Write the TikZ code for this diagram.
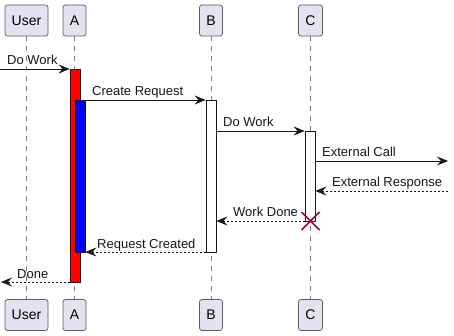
\documentclass[tikz,border=0pt]{standalone}
\usepackage{fontspec}
\setmainfont{Liberation Sans}
\usetikzlibrary{arrows.meta,calc}
\definecolor{partfill}{HTML}{E2E2F0}
\definecolor{ink}{HTML}{181818}
\definecolor{destroy}{HTML}{A80036}
\begin{document}
\begin{tikzpicture}[x=1pt,y=-1pt,
  participant/.style={draw=ink!70,fill=partfill,rounded corners=2.5pt,line width=0.7pt,
    minimum height=31pt,inner sep=0pt,font=\fontsize{14}{16}\selectfont},
  lifeline/.style={draw=ink!55,line width=0.6pt,dash pattern=on 5pt off 5pt},
  actbar/.style={draw=ink,line width=0.8pt,minimum width=10pt,inner sep=0pt},
  msg/.style={draw=ink,line width=0.8pt,-{Stealth[length=11pt,width=9pt,inset=4pt]}},
  reply/.style={msg,dash pattern=on 2pt off 2pt},
  lbl/.style={anchor=base west,inner sep=0pt,font=\fontsize{13}{15}\selectfont,text=ink}]
\useasboundingbox (0,0) rectangle (454,336);
\fill[white] (0,0) rectangle (454,336);

% participants, top and bottom
\node[participant,minimum width=43pt] (userT) at (26.5,20.5) {User};
\node[participant,minimum width=23pt] (aT) at (74.5,20.5) {A};
\node[participant,minimum width=23pt] (bT) at (211,20.5) {B};
\node[participant,minimum width=24pt] (cT) at (310.5,20.5) {C};
\node[participant,minimum width=43pt] (userB) at (26.5,315) {User};
\node[participant,minimum width=23pt] (aB) at (74.5,315) {A};
\node[participant,minimum width=23pt] (bB) at (211,315) {B};
\node[participant,minimum width=24pt] (cB) at (310.5,315) {C};

% lifelines
\draw[lifeline] (userT) -- (userB);
\draw[lifeline] (aT) -- (aB);
\draw[lifeline] (bT) -- (bB);
\draw[lifeline] (cT) -- (cB);

% activation bars
\node[actbar,fill=red,minimum height=213pt] (actA) at (75,175.5) {};
\node[actbar,fill=blue,minimum height=152pt] (actA2) at (80,176) {};
\node[actbar,fill=white,minimum height=152pt] (actB) at (211,176) {};
\node[actbar,fill=white,minimum height=90pt] (actC) at (310,176) {};

% free ends outside the participants
\coordinate (leftIn) at (0,69);
\coordinate (rightOut) at (448,161);
\coordinate (rightIn) at (448,191);
\coordinate (leftOut) at (1,282);

% messages
\draw[msg] (leftIn) -- (actA.west |- leftIn);
\node[lbl] (l1) at (7,65) {Do Work};

\draw[msg] (actA2.east |- 0,100) -- (actB.west |- 0,100);
\node[lbl] (l2) at (92,96) {Create Request};

\draw[msg] (actB.east |- 0,131) -- (actC.west |- 0,131);
\node[lbl] (l3) at (223,127) {Do Work};

\draw[msg] (actC.east |- rightOut) -- (rightOut);
\node[lbl] (l4) at (322,157) {External Call};

\draw[reply] (rightIn) -- (actC.east |- rightIn);
\node[lbl] (l5) at (332,187) {External Response};

\draw[reply] (actC.west |- 0,221) -- (actB.east |- 0,221);
\node[lbl] (l6) at (233,217) {Work Done};

\draw[reply] (actB.west |- 0,252) -- (actA2.east |- 0,252);
\node[lbl] (l7) at (97,248) {Request Created};

\draw[reply] (actA.west |- leftOut) -- (leftOut);
\node[lbl] (l8) at (17,278) {Done};

% destruction of C
\coordinate (xC) at (310.5,221);
\draw[destroy,line width=1.6pt] ($(xC)+(-9,-9)$) -- ($(xC)+(9,9)$)
  ($(xC)+(-9,9)$) -- ($(xC)+(9,-9)$);
\end{tikzpicture}
\end{document}
